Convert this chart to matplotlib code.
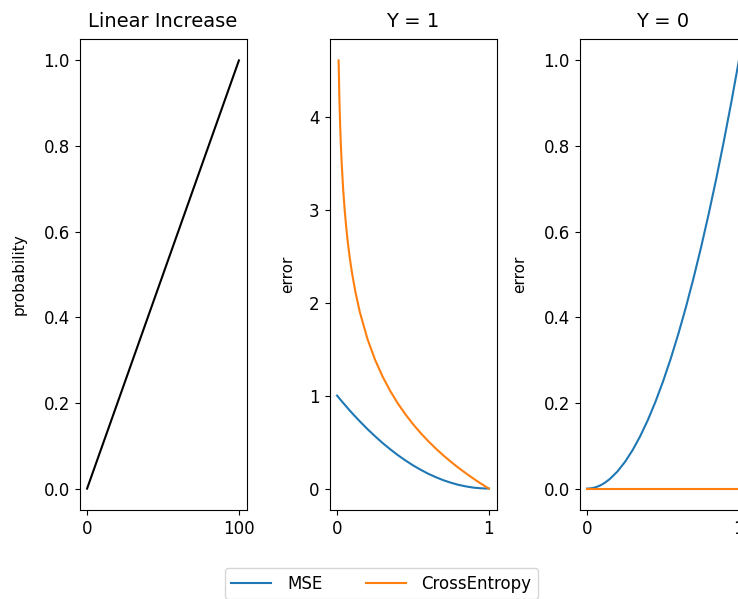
import numpy as np
import matplotlib
matplotlib.use("Agg")
import matplotlib.pyplot as plt

# linear panel
lin_x = [0, 100]
lin_y = [0.0, 1.0]

# predicted probability values
p = [0, 0.01, 0.015, 0.02, 0.025, 0.03, 0.04, 0.05, 0.06, 0.07, 0.08, 0.09,
     0.10, 0.12, 0.15, 0.2, 0.25, 0.3, 0.35, 0.4, 0.45, 0.5, 0.55, 0.6,
     0.65, 0.7, 0.75, 0.8, 0.85, 0.9, 0.95, 1.0]

# errors when Y = 1
mse_y1 = [1.0, 0.980, 0.970, 0.960, 0.951, 0.941, 0.922, 0.903, 0.884,
          0.865, 0.846, 0.828, 0.810, 0.774, 0.723, 0.640, 0.563, 0.490,
          0.423, 0.360, 0.303, 0.250, 0.203, 0.160, 0.123, 0.090, 0.063,
          0.040, 0.023, 0.010, 0.003, 0.0]
ce_y1 = [np.nan, 4.605, 4.200, 3.912, 3.689, 3.507, 3.219, 2.996, 2.813,
         2.659, 2.526, 2.408, 2.303, 2.120, 1.897, 1.609, 1.386, 1.204,
         1.050, 0.916, 0.799, 0.693, 0.598, 0.511, 0.431, 0.357, 0.288,
         0.223, 0.163, 0.105, 0.051, 0.0]

# errors when Y = 0
mse_y0 = [0.0, 0.0001, 0.0002, 0.0004, 0.0006, 0.0009, 0.0016, 0.0025,
          0.0036, 0.0049, 0.0064, 0.0081, 0.010, 0.0144, 0.0225, 0.040,
          0.0625, 0.090, 0.1225, 0.160, 0.2025, 0.250, 0.3025, 0.360,
          0.4225, 0.490, 0.5625, 0.640, 0.7225, 0.810, 0.9025, 1.0]
ce_y0 = [0.0] * len(p)

plt.rcParams["xtick.labelsize"] = 12
plt.rcParams["ytick.labelsize"] = 12

fig = plt.figure(figsize=(7.38, 5.99), dpi=100)
W, H = 738, 599


def add_ax(left):
    return fig.add_axes([left / W, (H - 510) / H, 167 / W, 471 / H])


ax1 = add_ax(79.5)
ax1.plot(lin_x, lin_y, color="black")
ax1.set_title("Linear Increase", fontsize=14, pad=8.5)
ax1.set_ylabel("probability", fontsize=11)
ax1.yaxis.set_label_coords(-0.314, 0.5)
ax1.set_xticks([0, 100])

ax2 = add_ax(329.5)
l1, = ax2.plot(p, mse_y1, label="MSE")
l2, = ax2.plot(p, ce_y1, label="CrossEntropy")
ax2.set_title("Y = 1", fontsize=14, pad=8.5)
ax2.set_ylabel("error", fontsize=11)
ax2.yaxis.set_label_coords(-0.207, 0.5)
ax2.set_xticks([0, 1])

ax3 = add_ax(579.5)
ax3.plot(p, mse_y0, label="MSE")
ax3.plot(p, ce_y0, label="CrossEntropy")
ax3.set_title("Y = 0", fontsize=14, pad=8.5)
ax3.set_ylabel("error", fontsize=11)
ax3.yaxis.set_label_coords(-0.314, 0.5)
ax3.set_xticks([0, 1])

fig.legend(handles=[l1, l2], loc="upper center", ncol=2, fontsize=12,
           handlelength=2.4, handletextpad=0.95, columnspacing=2.6,
           bbox_to_anchor=(381.5 / W, (H - 568) / H), borderaxespad=0)

fig.savefig("out.png", dpi=100)
